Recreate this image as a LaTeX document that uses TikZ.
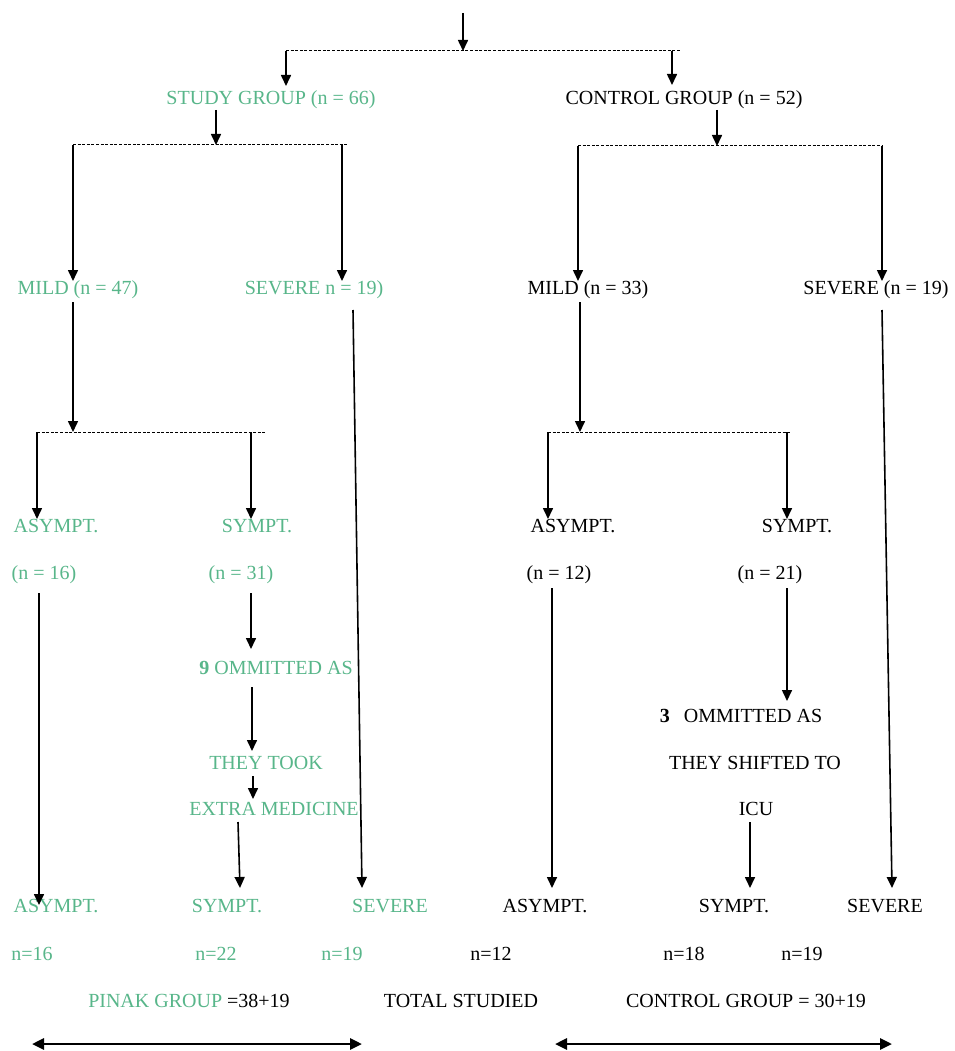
\documentclass[tikz,border=0pt]{standalone}
\usepackage{fontspec}
\setmainfont{Liberation Serif}
\usetikzlibrary{arrows.meta}
\definecolor{grn}{RGB}{88,182,138}
\begin{document}
\begin{tikzpicture}[x=1pt,y=-1pt,
  lbl/.style={inner sep=0pt,anchor=base,font=\fontsize{20}{24}\selectfont},
  g/.style={lbl,text=grn},
  k/.style={lbl,text=black},
  arr/.style={line width=1.6pt,-{Triangle[length=11pt,width=10pt]}},
  dsh/.style={line width=1pt,dash pattern=on 3pt off 1.6pt},
  dbl/.style={line width=2.8pt,{Triangle[length=12pt,width=11pt]}-{Triangle[length=12pt,width=11pt]}}]
\useasboundingbox (0,0) rectangle (954,1051);
\fill[white] (0,0) rectangle (954,1051);

% ---------- text nodes ----------
\node[g] (sg)   at (271,105) {STUDY GROUP (n = 66)};
\node[k] (cg)   at (684,105) {CONTROL GROUP (n = 52)};
\node[g] (m47)  at (78,294)  {MILD (n = 47)};
\node[g] (s19a) at (314,294) {SEVERE n = 19)};
\node[k] (m33)  at (588,294) {MILD (n = 33)};
\node[k] (s19b) at (876,294) {SEVERE (n = 19)};
\node[g] (as1)  at (56,532)  {ASYMPT.};
\node[g] (sy1)  at (257,532) {SYMPT.};
\node[k] (as2)  at (573,532) {ASYMPT.};
\node[k] (sy2)  at (797,532) {SYMPT.};
\node[g] (as1n) at (44,579)  {(n = 16)};
\node[g] (sy1n) at (241,579) {(n = 31)};
\node[k] (as2n) at (559,579) {(n = 12)};
\node[k] (sy2n) at (770,579) {(n = 21)};
\node[g] (om1)  at (276,674) {\textbf{9} OMMITTED AS};
\node[g] (tt)   at (266,769) {THEY TOOK};
\node[g] (em)   at (274,815) {EXTRA MEDICINE};
\node[k] (om2)  at (741,722) {\textbf{3}\hspace{0.7em}OMMITTED AS};
\node[k] (ts)   at (755,769) {THEY SHIFTED TO};
\node[k] (icu)  at (756,815) {ICU};
\node[g] (bas1) at (56,912)  {ASYMPT.};
\node[g] (bsy1) at (227,912) {SYMPT.};
\node[g] (bsv1) at (390,912) {SEVERE};
\node[k] (bas2) at (545,912) {ASYMPT.};
\node[k] (bsy2) at (734,912) {SYMPT.};
\node[k] (bsv2) at (885,912) {SEVERE};
\node[g] (n16)  at (32,960)  {n=16};
\node[g] (n22)  at (216,960) {n=22};
\node[g] (n19a) at (342,960) {n=19};
\node[k] (n12)  at (491,960) {n=12};
\node[k] (n18)  at (684,960) {n=18};
\node[k] (n19b) at (802,960) {n=19};
\node[lbl] (pg) at (189,1007) {\textcolor{grn}{PINAK GROUP }=38+19};
\node[k] (tot)  at (461,1007) {TOTAL STUDIED};
\node[k] (cgt)  at (746,1007) {CONTROL GROUP = 30+19};

% ---------- junction coordinates ----------
\coordinate (top) at (463,13);
\coordinate (j0) at (463,51);  \coordinate (j0l) at (286,51); \coordinate (j0r) at (680,51); \coordinate (j0c) at (672,51);
\coordinate (j1) at (216,145); \coordinate (j1l) at (73,145); \coordinate (j1r) at (347,145); \coordinate (j1c) at (342,145);
\coordinate (j2) at (717,146); \coordinate (j2l) at (578,146); \coordinate (j2r) at (882,146);
\coordinate (j3) at (73,432);  \coordinate (j3l) at (37,432); \coordinate (j3r) at (265,432); \coordinate (j3c) at (251,432);
\coordinate (j4) at (580,432); \coordinate (j4l) at (548,432); \coordinate (j4r) at (790,432); \coordinate (j4c) at (787,432);

% ---------- top split ----------
\draw[arr] (top) -- (j0);
\draw[dsh] (j0l) -- (j0r);
\draw[arr] (j0l) -- (286,86);
\draw[arr] (j0c) -- (672,85);

% ---------- study group ----------
\draw[arr] (216,110) -- (j1);
\draw[dsh] (j1l) -- (j1r);
\draw[arr] (j1l) -- (73,281);
\draw[arr] (j1c) -- (342,281);

% ---------- control group ----------
\draw[arr] (717,110) -- (j2);
\draw[dsh] (j2l) -- (j2r);
\draw[arr] (j2l) -- (578,281);
\draw[arr] (j2r) -- (882,281);

% ---------- mild 47 ----------
\draw[arr] (73,302) -- (j3);
\draw[dsh] (j3l) -- (j3r);
\draw[arr] (j3l) -- (37,519);
\draw[arr] (j3c) -- (251,519);

% ---------- mild 33 ----------
\draw[arr] (580,302) -- (j4);
\draw[dsh] (j4l) -- (j4r);
\draw[arr] (j4l) -- (548,519);
\draw[arr] (j4c) -- (787,519);

% ---------- study lower chain ----------
\draw[arr] (39,593) -- (39,905);
\draw[arr] (251,593) -- (251,649);
\draw[arr] (252,687) -- (252,751);
\draw[arr] (253,776) -- (253,799);
\draw[arr] (238,822) -- (240,888);
\draw[arr] (353,310) -- (362,888);

% ---------- control lower chain ----------
\draw[arr] (552,588) -- (552,888);
\draw[arr] (787,588) -- (787,701);
\draw[arr] (750,822) -- (750,888);
\draw[arr] (882,310) -- (892,888);

% ---------- bottom double arrows ----------
\draw[dbl] (32,1044) -- (362,1044);
\draw[dbl] (555,1044) -- (892,1044);
\end{tikzpicture}
\end{document}
